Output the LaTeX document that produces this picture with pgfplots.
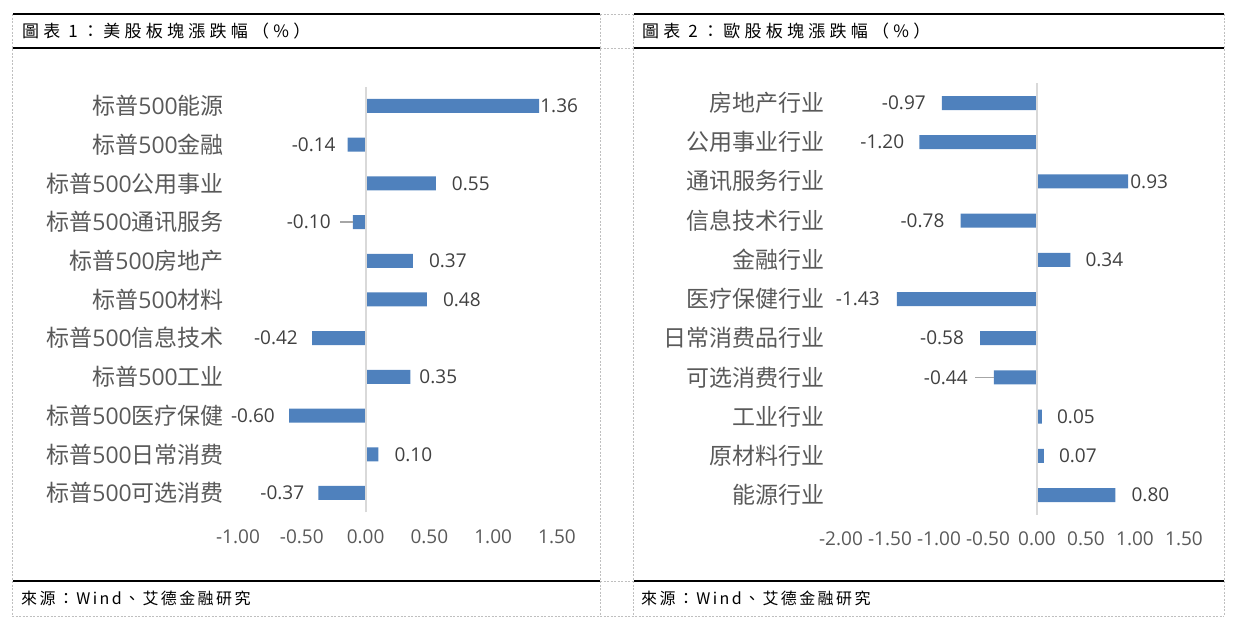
\documentclass[border=0pt]{standalone}
\usepackage{fontspec}
\usepackage{pgfplots}
\usepackage{pgfplotstable}
\pgfplotsset{compat=1.18}
\setmainfont{Noto Sans CJK SC}
\newfontfamily\numfont{Open Sans}
\newfontfamily\titlefont{Noto Sans CJK TC}[LetterSpace=25]
\newfontfamily\srcfont{Noto Sans CJK TC}[LetterSpace=15]
\definecolor{barblue}{HTML}{4F81BD}
\definecolor{catgray}{HTML}{595959}
\definecolor{valgray}{HTML}{404040}
\definecolor{zeroline}{HTML}{D9D9D9}
\definecolor{leader}{HTML}{A6A6A6}
\definecolor{frame}{HTML}{BFBFBF}
\newcommand\SP{标普{\numfont 500}}

% US sectors, top (idx 0) to bottom; dx = label gap in px (signed)
\pgfplotstableread{
idx val dx
0 1.36 1
1 -0.14 -12
2 0.55 16
3 -0.10 -22
4 0.37 16
5 0.48 16
6 -0.42 -14
7 0.35 9
8 -0.60 -14
9 0.10 16
10 -0.37 -14
}\usdata

% European sectors
\pgfplotstableread{
idx val dx
0 -0.97 -16
1 -1.20 -15
2 0.93 2
3 -0.78 -16
4 0.34 15
5 -1.43 -17
6 -0.58 -16
7 -0.44 -26
8 0.05 15
9 0.07 15
10 0.80 16
}\eudata

\pgfplotsset{
  secbar/.style={
    scale only axis,
    xbar, bar width=14pt,
    ymin=-0.5, ymax=10.5,
    axis line style={draw=none}, major tick length=0,
    ytick={0,...,10},
    yticklabel style={anchor=east, inner sep=0pt, font=\fontsize{23}{27}\selectfont, text=catgray},
    xticklabel style={anchor=center, yshift=-24pt, inner sep=0pt, font=\numfont\fontsize{19}{22}\selectfont, text=catgray},
    /pgf/number format/.cd, fixed, fixed zerofill, precision=2, assume math mode=true, /pgfplots/.cd,
    point meta=x,
    visualization depends on={\thisrow{dx} \as \dx},
    nodes near coords={\pgfmathprintnumber{\pgfplotspointmeta}},
    nodes near coords align={horizontal},
    every node near coord/.append style={inner sep=0pt, xshift=\dx, font=\numfont\fontsize{19}{22}\selectfont, text=valgray},
    clip=false,
  },
}

\begin{document}
\begin{tikzpicture}
\useasboundingbox (0pt,0pt) rectangle (1234pt,-630pt);
% dotted cell frame
\begin{scope}[draw=frame, line width=0.8pt, dash pattern=on 2pt off 1.5pt]
  \foreach \yy in {14,48,581,616} \draw (12pt,-\yy pt) -- (1224pt,-\yy pt);
  \foreach \xx in {12,600,633,1224} \draw (\xx pt,-14pt) -- (\xx pt,-616pt);
\end{scope}
% solid rules
\begin{scope}[draw=black, line width=1.4pt]
  \foreach \yy in {14,48,581} {
    \draw (13pt,-\yy pt) -- (600pt,-\yy pt);
    \draw (634pt,-\yy pt) -- (1224pt,-\yy pt);
  }
\end{scope}
\node[anchor=west, inner sep=0pt, font=\titlefont\fontsize{17}{20}\selectfont] at (22pt,-31pt) {圖表 1：美股板塊漲跌幅（\%）};
\node[anchor=west, inner sep=0pt, font=\titlefont\fontsize{17}{20}\selectfont] at (642pt,-31pt) {圖表 2：歐股板塊漲跌幅（\%）};
\node[anchor=west, inner sep=0pt, font=\srcfont\fontsize{16}{19}\selectfont] at (21pt,-598pt) {來源：Wind、艾德金融研究};
\node[anchor=west, inner sep=0pt, font=\srcfont\fontsize{16}{19}\selectfont] at (641pt,-598pt) {來源：Wind、艾德金融研究};

\begin{axis}[secbar,
  at={(238pt,-86.6pt)}, anchor=north west,
  width=319pt, height=425.7pt,
  xmin=-1, xmax=1.5,
  xtick={-1,-0.5,0,0.5,1,1.5},
  yticklabel style={xshift=-14pt},
  yticklabels={{\SP{}可选消费},{\SP{}日常消费},{\SP{}医疗保健},{\SP{}工业},{\SP{}信息技术},{\SP{}材料},{\SP{}房地产},{\SP{}通讯服务},{\SP{}公用事业},{\SP{}金融},{\SP{}能源}},
]
\addplot[fill=barblue, draw=none] table[x=val, y expr=10-\thisrow{idx}] {\usdata};
\draw[zeroline, line width=2.2pt] (axis cs:0,-0.5) -- (axis cs:0,10.5);
\draw[leader, line width=1.4pt] (axis cs:-0.20,7) -- (axis cs:-0.10,7);
\end{axis}

\begin{axis}[secbar,
  at={(841pt,-83.4pt)}, anchor=north west,
  width=343pt, height=431.2pt,
  xmin=-2, xmax=1.5,
  xtick={-2,-1.5,-1,-0.5,0,0.5,1,1.5},
  yticklabel style={xshift=-16pt},
  yticklabels={能源行业,原材料行业,工业行业,可选消费行业,日常消费品行业,医疗保健行业,金融行业,信息技术行业,通讯服务行业,公用事业行业,房地产行业},
]
\addplot[fill=barblue, draw=none] table[x=val, y expr=10-\thisrow{idx}] {\eudata};
\draw[zeroline, line width=2.2pt] (axis cs:0,-0.5) -- (axis cs:0,10.5);
\draw[leader, line width=1.4pt] (axis cs:-0.63,3) -- (axis cs:-0.44,3);
\end{axis}
\end{tikzpicture}
\end{document}
